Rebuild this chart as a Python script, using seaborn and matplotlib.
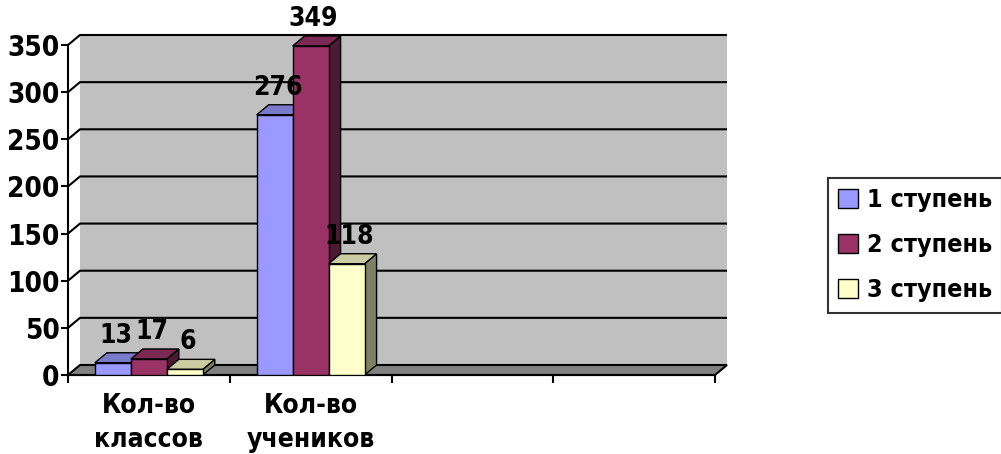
import matplotlib
matplotlib.use("Agg")
import matplotlib.pyplot as plt
from matplotlib.patches import Polygon
import seaborn as sns
import numpy as np
import pandas as pd

# data
categories = ["Кол-во\nклассов", "Кол-во\nучеников"]
stages = ["1 ступень", "2 ступень", "3 ступень"]
stage1 = [13, 276]
stage2 = [17, 349]
stage3 = [6, 118]
colors = ["#9999FF", "#993366", "#FFFFCC"]
yticks = [0, 50, 100, 150, 200, 250, 300, 350]
n_slots = 4

df = pd.DataFrame({
    "cat": categories * 3,
    "stage": [s for s in stages for _ in categories],
    "value": stage1 + stage2 + stage3,
})

sns.set_style("white")
plt.rcParams["font.family"] = ["DejaVu Sans"]
plt.rcParams["font.stretch"] = "condensed"
plt.rcParams["font.weight"] = "bold"
plt.rcParams["text.color"] = "black"
plt.rcParams["xtick.color"] = "black"
plt.rcParams["ytick.color"] = "black"

fig = plt.figure(figsize=(10.01, 4.54), dpi=100)
ax = fig.add_axes([68 / 1001, 79 / 454, 647 / 1001, 330 / 454])
ax.set_facecolor("none")

sns.barplot(data=df, x="cat", y="value", hue="stage", order=categories,
            hue_order=stages, palette=colors, width=0.667, ax=ax,
            edgecolor="black", linewidth=1, saturation=1, legend=False)

ax.set_xlim(-0.5, n_slots - 0.5)
ax.set_ylim(0, 350)

# depth offsets in pixels
WDX, WDY = 12, 10
BDX, BDY = 12, 10


def shift(x, y, dx, dy):
    p = ax.transData.transform((x, y))
    return ax.transData.inverted().transform(p + np.array([dx, dy]))


x_left, x_right = -0.5, n_slots - 0.5

# back wall
wall = [shift(x_left, 0, WDX, WDY), shift(x_right, 0, WDX, WDY),
        shift(x_right, 350, WDX, WDY), shift(x_left, 350, WDX, WDY)]
ax.add_patch(Polygon(wall, closed=True, facecolor="#C0C0C0", edgecolor="none",
                     zorder=0, clip_on=False))

# floor
floor = [(x_left, 0), (x_right, 0), shift(x_right, 0, WDX, WDY), shift(x_left, 0, WDX, WDY)]
ax.add_patch(Polygon(floor, closed=True, facecolor="#808080", edgecolor="black",
                     linewidth=1.5, zorder=0.5, clip_on=False))

# gridlines on wall + side
for v in yticks[1:]:
    a = (x_left, v)
    b = shift(x_left, v, WDX, WDY)
    c = shift(x_right, v, WDX, WDY)
    ax.plot([a[0], b[0], c[0]], [a[1], b[1], c[1]], color="black", lw=1.5,
            zorder=0.6, clip_on=False, solid_capstyle="butt")


def darker(c, f):
    r, g, b = matplotlib.colors.to_rgb(c)
    return (r * f, g * f, b * f)


# 3d sides, tops and labels
for j, cont in enumerate(ax.containers):
    for patch in cont.patches:
        patch.set_zorder(3 + j * 0.1 + 0.05)
        x0 = patch.get_x()
        x1 = x0 + patch.get_width()
        h = patch.get_height()
        fc = colors[j]
        side = [(x1, 0), (x1, h), shift(x1, h, BDX, BDY), shift(x1, 0, BDX, BDY)]
        top = [(x0, h), (x1, h), shift(x1, h, BDX, BDY), shift(x0, h, BDX, BDY)]
        ax.add_patch(Polygon(side, closed=True, facecolor=darker(fc, 0.5),
                             edgecolor="black", lw=1, zorder=3 + j * 0.1, clip_on=False))
        ax.add_patch(Polygon(top, closed=True, facecolor=darker(fc, 0.8),
                             edgecolor="black", lw=1, zorder=3 + j * 0.1, clip_on=False))
        tx, ty = shift((x0 + x1) / 2, h, 3, BDY + 4)
        ax.text(tx, ty, f"{h:.0f}", ha="center", va="bottom", fontsize=19,
                fontweight="bold", color="black", zorder=10, clip_on=False)

# axes styling
sns.despine(ax=ax, top=True, right=True)
for s in ["left", "bottom"]:
    ax.spines[s].set_color("black")
    ax.spines[s].set_linewidth(1.5)
    ax.spines[s].set_zorder(2)

ax.set_yticks(yticks)
ax.set_yticklabels([str(v) for v in yticks], fontsize=20, fontweight="bold")
ax.tick_params(axis="y", direction="out", length=5, width=1.5, pad=1, left=True)

ax.set_xticks(range(len(categories)))
ax.set_xticklabels(categories, fontsize=19, fontweight="bold", linespacing=1.42)
ax.set_xticks(np.arange(n_slots + 1) - 0.5, minor=True)
ax.tick_params(axis="x", which="major", length=0, pad=13)
ax.tick_params(axis="x", which="minor", direction="out", length=6, width=1.5, bottom=True)
ax.set_xlabel("")
ax.set_ylabel("")

# legend
handles = [matplotlib.patches.Patch(facecolor=c, edgecolor="black", linewidth=1) for c in colors]
leg = fig.legend(handles, stages, loc="upper left", bbox_to_anchor=(828 / 1001, 1 - 178 / 454),
                 frameon=True, fancybox=False,
                 prop={"weight": "bold", "size": 18, "stretch": "condensed"},
                 handlelength=0.8, handleheight=0.8, handletextpad=0.35, labelspacing=0.85,
                 borderpad=0.4, borderaxespad=0)
leg.get_frame().set_edgecolor("black")
leg.get_frame().set_linewidth(1.5)

fig.savefig("out.png", dpi=100)
